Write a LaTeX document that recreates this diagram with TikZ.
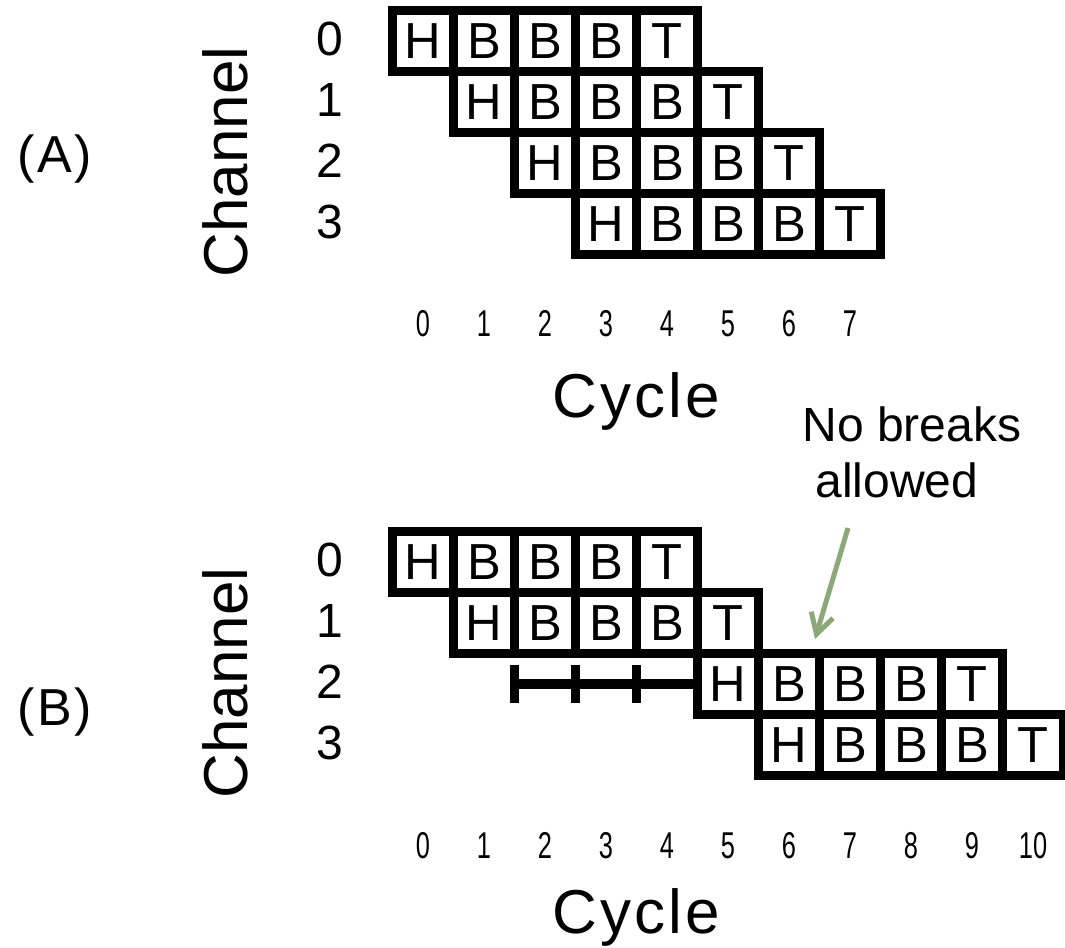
\documentclass[tikz,border=0pt]{standalone}
\usepackage{fontspec}
\setmainfont{Liberation Sans}
\newfontfamily\narrowfont[FakeStretch=0.68]{Liberation Sans}
\newfontfamily\spacedfont[LetterSpace=5]{Liberation Sans}
\usetikzlibrary{arrows.meta}
\definecolor{sage}{RGB}{140,168,122}
\tikzset{
  cell/.style={draw=black, line width=7.125pt, minimum size=45.75pt, inner sep=0pt,
    font=\fontsize{38pt}{40pt}\selectfont},
  chanlbl/.style={anchor=base, font=\fontsize{36pt}{38pt}\selectfont, inner sep=0pt},
  cyclbl/.style={anchor=base, font=\narrowfont\fontsize{28pt}{30pt}\selectfont, inner sep=0pt},
  axtitle/.style={font=\fontsize{46.5pt}{48pt}\selectfont, inner sep=0pt},
  cycletitle/.style={anchor=base, font=\spacedfont\fontsize{46.5pt}{48pt}\selectfont, inner sep=0pt},
  panel/.style={anchor=base, font=\spacedfont\fontsize{39pt}{41pt}\selectfont, inner sep=0pt},
  notetext/.style={anchor=base, font=\fontsize{36pt}{40pt}\selectfont, inner sep=0pt},
  waitbar/.style={line width=7.5pt, line cap=butt},
  waittick/.style={line width=6.75pt, line cap=butt},
  notearrow/.style={draw=sage, line width=3.75pt, -{Straight Barb[length=15pt,width=17pt,line width=3.75pt]}}
}
\begin{document}
\begin{tikzpicture}[x=0.75pt, y=-0.75pt]
\useasboundingbox (0,0) rectangle (1065,948);
\fill[white] (0,0) rectangle (1065,948);

% ---------- Panel A ----------
\node[panel] (lblA) at (55,173) {(A)};
\node[axtitle, rotate=90] (chA) at (225.5,162) {Channel};
\foreach \r in {0,1,2,3} {
  \node[chanlbl] (chA\r) at (330,{55.5+61*\r}) {\r};
}
\foreach \r/\s in {0/0,1/1,2/2,3/3} {
  \foreach \t [count=\i from 0] in {H,B,B,B,T} {
    \pgfmathtruncatemacro\c{\s+\i}
    \node[cell] (a-\r-\c) at ({423+61*\c},{41+61*\r}) {\t};
  }
}
\foreach \c in {0,...,7} {
  \node[cyclbl] (cyA\c) at ({423+61*\c},337) {\c};
}
\node[cycletitle] (cycA) at (636,418) {Cycle};

% ---------- Note ----------
\node[notetext] (note1) at (912,442) {No breaks};
\node[notetext] (note2) at (897,498) {allowed};
\coordinate (arrS) at (848,528);
\coordinate (arrE) at (815,639);
\draw[notearrow] (arrS) -- (arrE);

% ---------- Panel B ----------
\node[panel] (lblB) at (55,725) {(B)};
\node[axtitle, rotate=90] (chB) at (225.5,683) {Channel};
\foreach \r in {0,1,2,3} {
  \node[chanlbl] (chB\r) at (330,{576.5+61*\r}) {\r};
}
\foreach \r/\s in {0/0,1/1,2/5,3/6} {
  \foreach \t [count=\i from 0] in {H,B,B,B,T} {
    \pgfmathtruncatemacro\c{\s+\i}
    \node[cell] (b-\r-\c) at ({423+61*\c},{562+61*\r}) {\t};
  }
}
% waiting bar on channel 2
\coordinate (t0) at (514.5,684);
\coordinate (t1) at (575.5,684);
\coordinate (t2) at (636.5,684);
\draw[waitbar] (t0) -- (b-2-5.west);
\foreach \p in {t0,t1,t2} {
  \draw[waittick] (\p) ++(0,-18.5) -- ++(0,37);
}
\foreach \c in {0,...,10} {
  \node[cyclbl] (cyB\c) at ({423+61*\c},858) {\c};
}
\node[cycletitle] (cycB) at (636,933) {Cycle};
\end{tikzpicture}
\end{document}
